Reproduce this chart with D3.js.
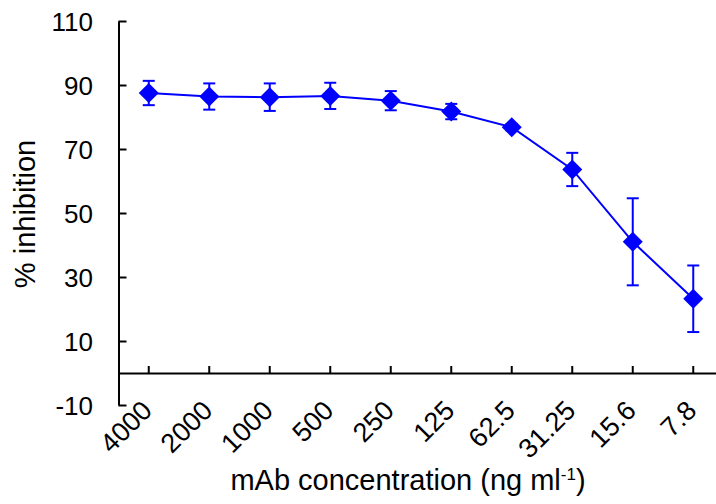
<!DOCTYPE html>
<html>
<head>
<meta charset="utf-8">
<script src="https://cdn.jsdelivr.net/npm/d3@7"></script>
<style>
  html, body { margin: 0; padding: 0; background: #fff; }
  svg { display: block; font-family: "Liberation Sans", Arial, sans-serif; }
</style>
</head>
<body>
<div id="chart"></div>
<script>
// concentrations (ng/ml), mean % inhibition and error bar half-widths
const concentrations = ['4000', '2000', '1000', '500', '250', '125', '62.5', '31.25', '15.6', '7.8'];
const inhibition = [87.5, 86.4, 86.2, 86.6, 85.1, 81.7, 76.8, 63.6, 41.0, 23.2];
const errors = [3.8, 4.1, 4.3, 4.1, 3.0, 2.4, 1.0, 5.2, 13.6, 10.4];
const yTicks = [-10, 10, 30, 50, 70, 90, 110];

const width = 716, height = 504;
const margin = { left: 118.5, top: 21 };
const color = '#0000ff';
const tickFont = 26, titleFont = 29;

const svg = d3.select('#chart').append('svg')
  .attr('width', width)
  .attr('height', height);

// scales
const y = d3.scaleLinear().domain([-10, 110]).range([405, 21]);
const x = d3.scaleBand().domain(concentrations).range([margin.left, margin.left + 60.5 * concentrations.length]);
const cx = d => x(d) + x.bandwidth() / 2;

// y axis (ticks point inward)
const yAxis = svg.append('g')
  .attr('transform', `translate(${margin.left},0)`)
  .call(d3.axisRight(y).tickValues(yTicks).tickSize(8).tickSizeOuter(0).tickFormat(''));
yAxis.select('.domain').attr('stroke', '#000').attr('stroke-width', 2);
yAxis.selectAll('.tick line').attr('stroke', '#000').attr('stroke-width', 2);

svg.append('g').selectAll('text')
  .data(yTicks)
  .join('text')
  .attr('x', 93)
  .attr('y', d => y(d) + 1)
  .attr('dy', '0.36em')
  .attr('text-anchor', 'end')
  .attr('font-size', tickFont)
  .attr('fill', '#000')
  .text(d => d);

// x axis at y = 0, ticks point up
const xAxis = svg.append('g')
  .attr('transform', `translate(0,${y(0)})`)
  .call(d3.axisTop(x).tickSize(7).tickSizeOuter(0).tickFormat(''));
xAxis.select('.domain').attr('stroke', '#000').attr('stroke-width', 2);
xAxis.selectAll('.tick line').attr('stroke', '#000').attr('stroke-width', 2);

svg.append('g').selectAll('text')
  .data(concentrations)
  .join('text')
  .attr('transform', d => `translate(${cx(d) + 5},412) rotate(-45)`)
  .attr('text-anchor', 'end')
  .attr('font-size', tickFont + 1)
  .attr('fill', '#000')
  .text(d => d);

// axis titles
svg.append('text')
  .attr('transform', 'translate(35,214) rotate(-90)')
  .attr('text-anchor', 'middle')
  .attr('font-size', titleFont)
  .attr('fill', '#000')
  .text('% inhibition');

const xTitle = svg.append('text')
  .attr('x', 408)
  .attr('y', 490)
  .attr('text-anchor', 'middle')
  .attr('font-size', titleFont)
  .attr('fill', '#000');
xTitle.append('tspan').text('mAb concentration (ng ml');
xTitle.append('tspan').attr('font-size', 17).attr('dy', -10).text('-1');
xTitle.append('tspan').attr('dy', 10).text(')');

// error bars
const eb = svg.append('g').selectAll('g')
  .data(concentrations.map((c, i) => ({ c, v: inhibition[i], e: errors[i] })))
  .join('g')
  .attr('stroke', color)
  .attr('stroke-width', 2);
eb.append('line')
  .attr('x1', d => cx(d.c)).attr('x2', d => cx(d.c))
  .attr('y1', d => y(d.v + d.e)).attr('y2', d => y(d.v - d.e));
eb.append('line')
  .attr('x1', d => cx(d.c) - 6).attr('x2', d => cx(d.c) + 6)
  .attr('y1', d => y(d.v + d.e)).attr('y2', d => y(d.v + d.e));
eb.append('line')
  .attr('x1', d => cx(d.c) - 6).attr('x2', d => cx(d.c) + 6)
  .attr('y1', d => y(d.v - d.e)).attr('y2', d => y(d.v - d.e));

// line
const line = d3.line()
  .x((d, i) => cx(concentrations[i]))
  .y(d => y(d));
svg.append('path')
  .datum(inhibition)
  .attr('d', line)
  .attr('fill', 'none')
  .attr('stroke', color)
  .attr('stroke-width', 2);

// diamond markers
svg.append('g').selectAll('path')
  .data(inhibition)
  .join('path')
  .attr('transform', (d, i) => `translate(${cx(concentrations[i])},${y(d)})`)
  .attr('d', 'M0,-10L10,0L0,10L-10,0Z')
  .attr('fill', color);
</script>
</body>
</html>
